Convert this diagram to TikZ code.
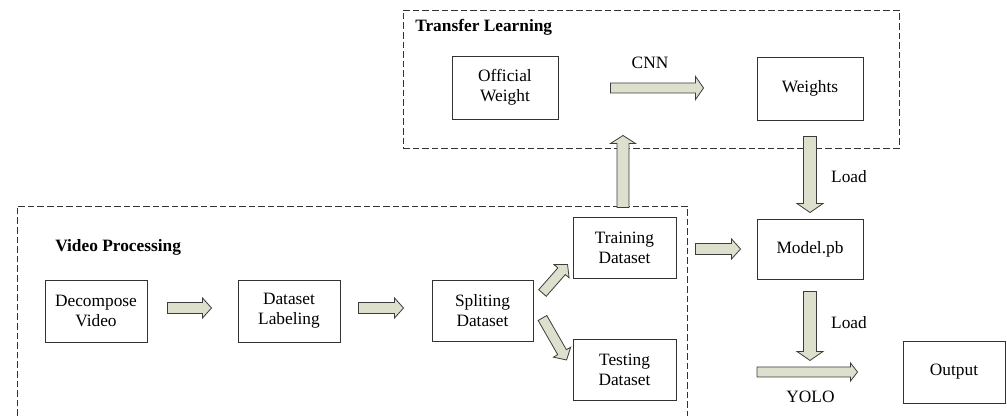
\documentclass[tikz,border=0pt]{standalone}
\usepackage{fontspec}
\setmainfont{Liberation Serif}
\usetikzlibrary{calc}

\definecolor{arrowfill}{RGB}{220,224,204}
\definecolor{arrowedge}{RGB}{60,60,60}

\tikzset{
  box/.style={draw=black!80, line width=0.7pt, inner sep=0pt, align=center},
  size/.style 2 args={minimum width=#1*0.75pt, minimum height=#2*0.75pt},
  group/.style={draw=black!80, line width=0.7pt, dash pattern=on 5pt off 2.2pt},
  grouptitle/.style={font=\fontsize{13}{15}\selectfont\bfseries, anchor=west, inner sep=0pt},
  lbl/.style={inner sep=0pt},
  % block arrow: shaft width, head width, head length (all in px units)
  blk/.style n args={3}{draw=arrowedge, fill=arrowfill, line width=0.6pt, line join=miter,
    to path={let \p1=(\tikztostart), \p2=(\tikztotarget),
      \n1={atan2(\y2-\y1,\x2-\x1)},
      \n2={veclen(\x2-\x1,\y2-\y1)-#3*0.75pt} in
      ($(\p1)+(\n1+90:#1*0.375pt)$)
      -- ($(\p1)+(\n1:\n2)+(\n1+90:#1*0.375pt)$)
      -- ($(\p1)+(\n1:\n2)+(\n1+90:#2*0.375pt)$)
      -- (\p2)
      -- ($(\p1)+(\n1:\n2)+(\n1-90:#2*0.375pt)$)
      -- ($(\p1)+(\n1:\n2)+(\n1-90:#1*0.375pt)$)
      -- ($(\p1)+(\n1-90:#1*0.375pt)$) -- cycle}},
}

\begin{document}
\begin{tikzpicture}[x=0.75pt,y=-0.75pt,font=\fontsize{13}{15}\selectfont]
\useasboundingbox (0,0) rectangle (1007,416);

% groups
\node[group, inner sep=0pt, size={496}{138}] (tl) at (651,79) {};
\node[grouptitle] (tltitle) at (415,27) {Transfer Learning};
\draw[group] (17,416) -- (17,206) -- (687,206) -- (687,416);
\node[grouptitle] (vptitle) at (55,247) {Video Processing};

% boxes
\node[box, size={106}{63}] (ofw) at (505,87.5) {Official\\Weight};
\node[box, size={106}{63}] (wts) at (810,88.5) {Weights};
\node[box, size={102}{62}] (dec) at (96,311) {Decompose\\Video};
\node[box, size={102}{62}] (lab) at (289,311) {Dataset\\Labeling};
\node[box, size={101}{61}] (spl) at (482.5,310.5) {Spliting\\Dataset};
\node[box, size={103}{61}] (trn) at (624.5,247.5) {Training\\Dataset};
\node[box, size={103}{61}] (tst) at (624.5,369.5) {Testing\\Dataset};
\node[box, size={106}{60}] (mdl) at (810,249) {Model.pb};
\node[box, size={102}{62}] (out) at (954,372) {Output};
\coordinate (yolo) at (757,372);

% block arrows
\draw[blk={11}{20}{9}] ($(dec.east)+(20,-3)$) to ($(lab.west)+(-26,-3)$);
\draw[blk={11}{20}{9}] ($(lab.east)+(18,-3)$) to ($(spl.west)+(-28,-2.5)$);
\draw[blk={10}{20}{9}] ($(spl.east)+(9,-17.5)$) to ($(trn.south west)+(-5,-14)$);
\draw[blk={10}{20}{9}] ($(spl.east)+(9,7.5)$) to ($(tst.west)+(-6,-9.5)$);
\draw[blk={12}{25}{8}] ($(trn.north)+(-1.5,-9)$) to ($(tl.south)+(-28,-13)$);
\draw[blk={11}{20}{9}] ($(trn.east)+(19,1.5)$) to ($(mdl.west)+(-16,0)$);
\draw[blk={10}{23}{8}] ($(ofw.east)+(52,0.5)$) to ($(wts.west)+(-53,-0.5)$);
\draw[blk={13}{26}{9}] ($(wts.south)+(0,16)$) to ($(mdl.north)+(0,-6)$);
\draw[blk={13}{26}{9}] ($(mdl.south)+(0,12)$) to ($(mdl.south)+(0,81)$);
\draw[blk={10}{18}{7}] (yolo) to ($(out.west)+(-45,0)$);

% labels
\node[lbl] (cnn) at (650,63) {CNN};
\node[lbl] (load1) at (849,177) {Load};
\node[lbl] (load2) at (849,323) {Load};
\node[lbl] (yololbl) at (810.5,397) {YOLO};
\end{tikzpicture}
\end{document}
